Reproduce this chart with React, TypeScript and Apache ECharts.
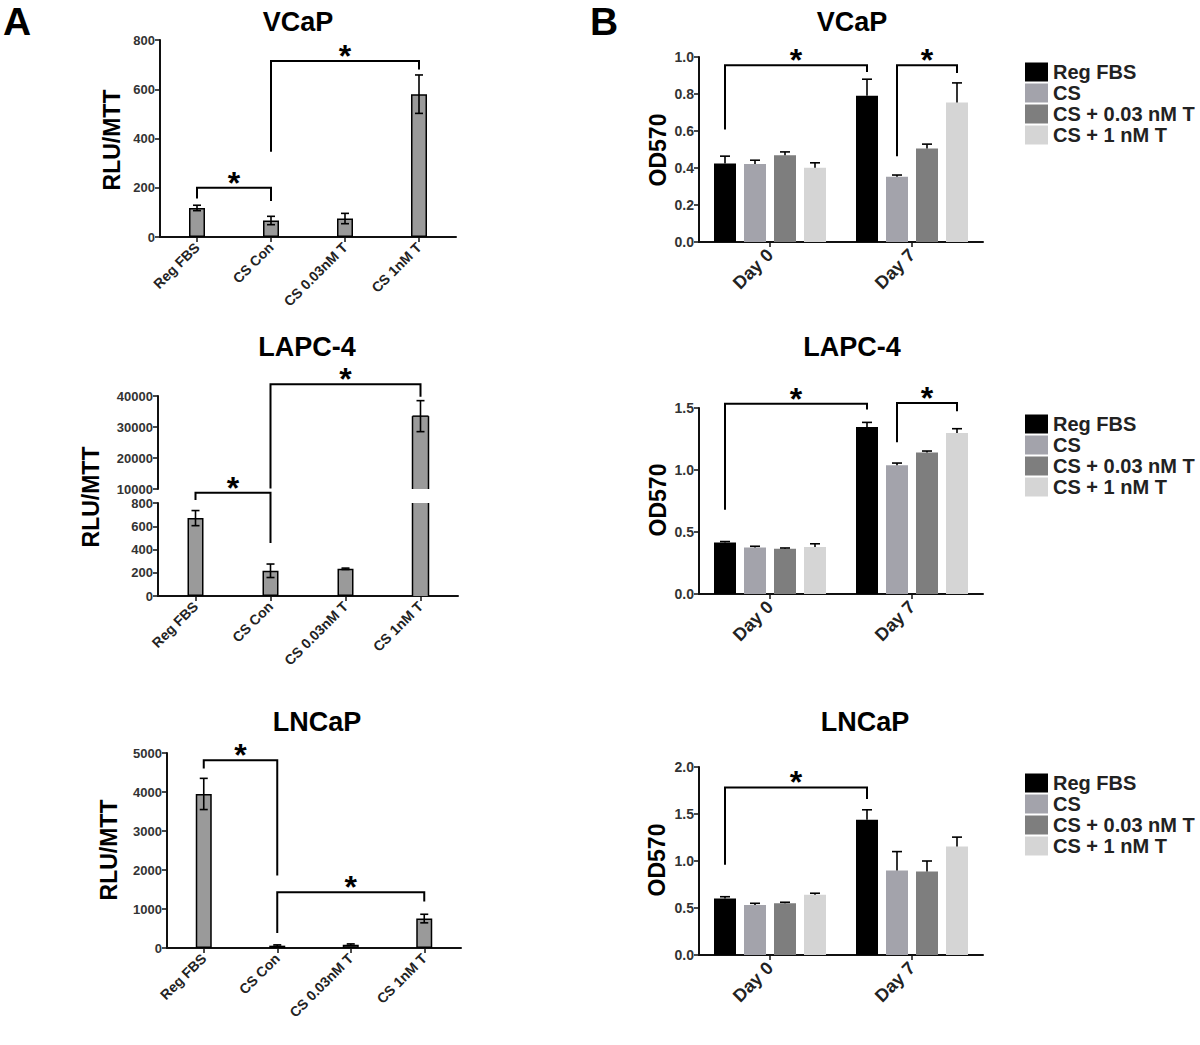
import React, { useEffect, useRef } from "react";
import * as echarts from "echarts";

// ---------------- DATA ----------------
const A_CATEGORIES = ["Reg FBS", "CS Con", "CS 0.03nM T", "CS 1nM T"];

const A_VCAP_VALUES = [118, 67, 75, 580];
const A_VCAP_ERR = [11, 17, 21, 78];
const A_VCAP_TICKS = [0, 800, 200];
// bracket: [fromCat, toCat, barY, leftLegEnd, rightLegEnd]
const A_VCAP_BRACKETS = [
  [0, 1, 200, 156, 146],
  [1, 3, 715, 346, 680],
];

const A_LAPC_VALUES = [670, 217, 234, 33500];
const A_LAPC_ERR = [65, 58, 6, 5000];
const A_LAPC_LOW_TICKS = [0, 800, 200];
const A_LAPC_HIGH_TICKS = [10000, 40000, 10000];
const A_LAPC_LOW_BRACKETS = [[0, 1, 889, 826, 456]];
const A_LAPC_HIGH_BRACKETS = [[1, 3, 43760, 10200, 39750]];

const A_LNCAP_VALUES = [3950, 60, 85, 755];
const A_LNCAP_ERR = [400, 20, 20, 110];
const A_LNCAP_TICKS = [0, 5000, 1000];
const A_LNCAP_BRACKETS = [
  [0, 1, 4813, 4600, 1857],
  [1, 3, 1431, 383, 1192],
];

const B_CATEGORIES = ["Day 0", "Day 7"];
const B_GROUPS = ["Reg FBS", "CS", "CS + 0.03 nM T", "CS + 1 nM T"];
const B_COLORS = ["#000000", "#a3a3ab", "#7e7e7e", "#d5d5d5"];

const B_VCAP_REG = [0.424, 0.79];
const B_VCAP_CS = [0.421, 0.353];
const B_VCAP_LOWT = [0.469, 0.505];
const B_VCAP_HIGHT = [0.401, 0.754];
const B_VCAP_ERR = [
  [0.04, 0.09],
  [0.021, 0.009],
  [0.018, 0.024],
  [0.027, 0.106],
];
const B_VCAP_TICKS = [0, 1, 0.2];
// bracket: [fromCat, fromBar, toCat, toBar, barY, leftLegEnd, rightLegEnd]
const B_VCAP_BRACKETS = [
  [0, 0, 1, 0, 0.955, 0.608, 0.919],
  [1, 1, 1, 3, 0.955, 0.464, 0.914],
];

const B_LAPC_REG = [0.415, 1.347];
const B_LAPC_CS = [0.375, 1.038];
const B_LAPC_LOWT = [0.365, 1.142];
const B_LAPC_HIGHT = [0.38, 1.298];
const B_LAPC_ERR = [
  [0.008, 0.037],
  [0.01, 0.018],
  [0.006, 0.011],
  [0.025, 0.035],
];
const B_LAPC_TICKS = [0, 1.5, 0.5];
const B_LAPC_BRACKETS = [
  [0, 0, 1, 0, 1.535, 0.68, 1.487],
  [1, 1, 1, 3, 1.54, 1.223, 1.473],
];

const B_LNCAP_REG = [0.6, 1.44];
const B_LNCAP_CS = [0.533, 0.9];
const B_LNCAP_LOWT = [0.55, 0.888];
const B_LNCAP_HIGHT = [0.64, 1.154];
const B_LNCAP_ERR = [
  [0.02, 0.105],
  [0.017, 0.2],
  [0.011, 0.112],
  [0.017, 0.1],
];
const B_LNCAP_TICKS = [0, 2, 0.5];
const B_LNCAP_BRACKETS = [[0, 0, 1, 0, 1.783, 0.959, 1.659]];

// ---------------- STYLE ----------------
const FONT = "'Liberation Sans', Arial, Helvetica, sans-serif";
const AXIS_COLOR = "#111111";
const TICK_LABEL_COLOR = "#333333";
const A_BAR_COLOR = "#9a9a9a";
const A_BAR_W = 16;
const B_BAR_W = 22;
const B_BAR_SPACE = 8;

type Rect = { left: number; top: number; width: number; height: number };

function buildOption() {
  const grid: any[] = [];
  const xAxis: any[] = [];
  const yAxis: any[] = [];
  const series: any[] = [];
  const legend: any[] = [];
  const graphic: any[] = [];

  const catAxis = (cats: string[], fontSize: number, margin: number, show = true) => ({
    type: "category",
    data: cats,
    show,
    axisLine: { show: true, lineStyle: { color: AXIS_COLOR, width: 2 } },
    axisTick: { show: true, alignWithLabel: true, length: 5, lineStyle: { color: AXIS_COLOR, width: 1.5 } },
    axisLabel: {
      rotate: 45,
      interval: 0,
      fontSize,
      fontWeight: "bold",
      color: "#222",
      fontFamily: FONT,
      margin,
    },
    splitLine: { show: false },
  });

  const valAxis = (ticks: number[], decimals: number, fontSize: number) => ({
    type: "value",
    min: ticks[0],
    max: ticks[1],
    interval: ticks[2],
    axisLine: { show: true, lineStyle: { color: AXIS_COLOR, width: 2 } },
    axisTick: { show: true, length: 5, lineStyle: { color: AXIS_COLOR, width: 1.5 } },
    axisLabel: {
      fontSize,
      fontWeight: "bold",
      color: TICK_LABEL_COLOR,
      fontFamily: FONT,
      margin: 5,
      formatter: (v: number) => v.toFixed(decimals),
    },
    splitLine: { show: false },
  });

  const addCoord = (rect: Rect, x: any, y: any) => {
    const i = grid.length;
    grid.push({ ...rect, containLabel: false });
    xAxis.push({ gridIndex: i, ...x });
    yAxis.push({ gridIndex: i, ...y });
    return i;
  };

  const errorBars = (
    ci: number,
    values: number[],
    errs: number[],
    opt: { cap: number; both: boolean; offset: number; keep?: (i: number) => boolean }
  ) => {
    const idx = values.map((_, i) => i).filter((i) => !opt.keep || opt.keep(i));
    return {
      type: "custom",
      xAxisIndex: ci,
      yAxisIndex: ci,
      z: 10,
      silent: true,
      clip: false,
      data: idx.map((i) => [i, values[i] + errs[i]]),
      encode: { x: 0, y: 1 },
      renderItem: (params: any, api: any) => {
        const i = idx[params.dataIndex];
        const v = values[i];
        const e = errs[i];
        const pTop = api.coord([i, v + e]);
        const pBot = api.coord([i, opt.both ? v - e : v]);
        const cx = pTop[0] + opt.offset;
        const st = { stroke: "#000", lineWidth: 1.6 };
        const children: any[] = [
          { type: "line", shape: { x1: cx, y1: pTop[1], x2: cx, y2: pBot[1] }, style: st },
          { type: "line", shape: { x1: cx - opt.cap, y1: pTop[1], x2: cx + opt.cap, y2: pTop[1] }, style: st },
        ];
        if (opt.both) {
          children.push({
            type: "line",
            shape: { x1: cx - opt.cap, y1: pBot[1], x2: cx + opt.cap, y2: pBot[1] },
            style: st,
          });
        }
        return { type: "group", children };
      },
    };
  };

  // outline of a bar that is cut by the axis break (no border at the cut)
  const brokenOutline = (ci: number, values: number[], i: number, lo: number, hi: number) => ({
    type: "custom",
    xAxisIndex: ci,
    yAxisIndex: ci,
    z: 9,
    silent: true,
    clip: false,
    data: [[i, Math.min(values[i], hi)]],
    encode: { x: 0, y: 1 },
    renderItem: (_params: any, api: any) => {
      const top = Math.min(values[i], hi);
      const pT = api.coord([i, top]);
      const pB = api.coord([i, lo]);
      const xL = pT[0] - A_BAR_W / 2;
      const xR = pT[0] + A_BAR_W / 2;
      const closedTop = values[i] <= hi;
      const st = { stroke: "#000", lineWidth: 1.5, fill: "none" };
      const children: any[] = [
        { type: "line", shape: { x1: xL, y1: pB[1], x2: xL, y2: pT[1] }, style: st },
        { type: "line", shape: { x1: xR, y1: pB[1], x2: xR, y2: pT[1] }, style: st },
      ];
      if (closedTop) {
        children.push({ type: "line", shape: { x1: xL, y1: pT[1], x2: xR, y2: pT[1] }, style: st });
      }
      return { type: "group", children };
    },
  });

  const brackets = (ci: number, list: number[][], offsetOf: (b: number) => number) => ({
    type: "custom",
    xAxisIndex: ci,
    yAxisIndex: ci,
    z: 12,
    silent: true,
    clip: false,
    data: list.map((b) => [b[0], b[4]]),
    encode: { x: 0, y: 1 },
    renderItem: (params: any, api: any) => {
      const [c1, b1, c2, b2, y, yl, yr] = list[params.dataIndex];
      const pL = api.coord([c1, y]);
      const pR = api.coord([c2, y]);
      const pLl = api.coord([c1, yl]);
      const pRr = api.coord([c2, yr]);
      const x1 = pL[0] + offsetOf(b1);
      const x2 = pR[0] + offsetOf(b2);
      return {
        type: "group",
        children: [
          {
            type: "polyline",
            shape: { points: [[x1, pLl[1]], [x1, pL[1]], [x2, pL[1]], [x2, pRr[1]]] },
            style: { stroke: "#000", lineWidth: 2, fill: "none" },
          },
          {
            type: "text",
            x: (x1 + x2) / 2,
            y: pL[1] - 5,
            style: {
              text: "*",
              fontSize: 32,
              fontWeight: "bold",
              fill: "#000",
              align: "center",
              verticalAlign: "middle",
              fontFamily: FONT,
            },
          },
        ],
      };
    },
  });

  const aBrackets = (list: number[][]) => list.map((b) => [b[0], 0, b[1], 0, b[2], b[3], b[4]]);

  const aBarSeries = (ci: number, name: string, data: any[]) => ({
    type: "bar",
    name,
    xAxisIndex: ci,
    yAxisIndex: ci,
    data,
    barWidth: A_BAR_W,
    clip: true,
    itemStyle: { color: A_BAR_COLOR, borderColor: "#000", borderWidth: 1.5 },
    z: 2,
  });

  const A_TICK_FS = 13;
  const A_CAT_FS = 14;

  // ---------- Panel A : VCaP ----------
  {
    const ci = addCoord(
      { left: 160, top: 40, width: 296, height: 197 },
      catAxis(A_CATEGORIES, A_CAT_FS, 8),
      valAxis(A_VCAP_TICKS, 0, A_TICK_FS)
    );
    series.push(aBarSeries(ci, "A VCaP", A_VCAP_VALUES));
    series.push(errorBars(ci, A_VCAP_VALUES, A_VCAP_ERR, { cap: 4, both: true, offset: 0 }));
    series.push(brackets(ci, aBrackets(A_VCAP_BRACKETS), () => 0));
  }

  // ---------- Panel A : LAPC-4 (broken axis) ----------
  {
    const hi = addCoord(
      { left: 158, top: 396, width: 300, height: 93 },
      catAxis(A_CATEGORIES, A_CAT_FS, 8, false),
      valAxis(A_LAPC_HIGH_TICKS, 0, A_TICK_FS)
    );
    const lo = addCoord(
      { left: 158, top: 503, width: 300, height: 93 },
      catAxis(A_CATEGORIES, A_CAT_FS, 8),
      valAxis(A_LAPC_LOW_TICKS, 0, A_TICK_FS)
    );
    const hiMin = A_LAPC_HIGH_TICKS[0];
    const loMax = A_LAPC_LOW_TICKS[1];
    const cutItem = (v: number) => ({ value: v, itemStyle: { borderWidth: 0 } });
    series.push(
      aBarSeries(
        hi,
        "A LAPC-4 high",
        A_LAPC_VALUES.map((v) => (v > hiMin ? cutItem(v) : "-"))
      )
    );
    series.push(aBarSeries(lo, "A LAPC-4", A_LAPC_VALUES.map((v) => (v > loMax ? cutItem(v) : v))));
    A_LAPC_VALUES.forEach((v, i) => {
      if (v > loMax) {
        series.push(brokenOutline(lo, A_LAPC_VALUES, i, 0, loMax));
        series.push(brokenOutline(hi, A_LAPC_VALUES, i, hiMin, A_LAPC_HIGH_TICKS[1]));
      }
    });
    series.push(
      errorBars(hi, A_LAPC_VALUES, A_LAPC_ERR, {
        cap: 4,
        both: true,
        offset: 0,
        keep: (i) => A_LAPC_VALUES[i] > hiMin,
      })
    );
    series.push(
      errorBars(lo, A_LAPC_VALUES, A_LAPC_ERR, {
        cap: 4,
        both: true,
        offset: 0,
        keep: (i) => A_LAPC_VALUES[i] <= loMax,
      })
    );
    series.push(brackets(lo, aBrackets(A_LAPC_LOW_BRACKETS), () => 0));
    series.push(brackets(hi, aBrackets(A_LAPC_HIGH_BRACKETS), () => 0));
  }

  // ---------- Panel A : LNCaP ----------
  {
    const ci = addCoord(
      { left: 167, top: 753, width: 294, height: 195 },
      catAxis(A_CATEGORIES, A_CAT_FS, 8),
      valAxis(A_LNCAP_TICKS, 0, A_TICK_FS)
    );
    series.push(aBarSeries(ci, "A LNCaP", A_LNCAP_VALUES));
    series.push(errorBars(ci, A_LNCAP_VALUES, A_LNCAP_ERR, { cap: 4, both: true, offset: 0 }));
    series.push(brackets(ci, aBrackets(A_LNCAP_BRACKETS), () => 0));
  }

  // ---------- Panel B ----------
  const bOffset = (b: number) => (b - 1.5) * (B_BAR_W + B_BAR_SPACE);
  const addB = (
    rect: Rect,
    groups: number[][],
    errs: number[][],
    ticks: number[],
    br: number[][],
    legendTop: number
  ) => {
    const ci = addCoord(rect, catAxis(B_CATEGORIES, 18, 10), valAxis(ticks, 1, 14));
    groups.forEach((vals, g) => {
      series.push({
        type: "bar",
        name: B_GROUPS[g],
        xAxisIndex: ci,
        yAxisIndex: ci,
        data: vals,
        barWidth: B_BAR_W,
        barGap: `${(B_BAR_SPACE / B_BAR_W) * 100}%`,
        itemStyle: { color: B_COLORS[g] },
        z: 2,
      });
    });
    groups.forEach((vals, g) => {
      series.push(errorBars(ci, vals, errs[g], { cap: 5, both: false, offset: bOffset(g) }));
    });
    series.push(brackets(ci, br, bOffset));
    legend.push({
      data: B_GROUPS,
      orient: "vertical",
      left: 1025,
      top: legendTop,
      itemWidth: 23,
      itemHeight: 19,
      itemGap: 1,
      padding: 0,
      icon: "rect",
      selectedMode: false,
      textStyle: { fontSize: 20, fontWeight: "bold", color: "#222", fontFamily: FONT, lineHeight: 19 },
    });
  };

  addB(
    { left: 699, top: 57, width: 284, height: 185 },
    [B_VCAP_REG, B_VCAP_CS, B_VCAP_LOWT, B_VCAP_HIGHT],
    B_VCAP_ERR,
    B_VCAP_TICKS,
    B_VCAP_BRACKETS,
    62
  );
  addB(
    { left: 699, top: 408, width: 284, height: 186 },
    [B_LAPC_REG, B_LAPC_CS, B_LAPC_LOWT, B_LAPC_HIGHT],
    B_LAPC_ERR,
    B_LAPC_TICKS,
    B_LAPC_BRACKETS,
    414
  );
  addB(
    { left: 699, top: 767, width: 284, height: 188 },
    [B_LNCAP_REG, B_LNCAP_CS, B_LNCAP_LOWT, B_LNCAP_HIGHT],
    B_LNCAP_ERR,
    B_LNCAP_TICKS,
    B_LNCAP_BRACKETS,
    773
  );

  // ---------- texts ----------
  const text = (t: string, x: number, y: number, size: number, rotate = false) => ({
    type: "text",
    x,
    y,
    rotation: rotate ? Math.PI / 2 : 0,
    style: {
      text: t,
      fontSize: size,
      fontWeight: "bold",
      fill: "#000",
      align: "center",
      verticalAlign: "middle",
      fontFamily: FONT,
    },
  });
  graphic.push(text("A", 17, 21, 39));
  graphic.push(text("B", 604, 21, 39));
  graphic.push(text("VCaP", 298, 22, 27));
  graphic.push(text("LAPC-4", 307, 347, 27));
  graphic.push(text("LNCaP", 317, 722, 27));
  graphic.push(text("VCaP", 852, 22, 27));
  graphic.push(text("LAPC-4", 852, 347, 27));
  graphic.push(text("LNCaP", 865, 722, 27));
  graphic.push(text("RLU/MTT", 112, 140, 23, true));
  graphic.push(text("RLU/MTT", 91, 497, 23, true));
  graphic.push(text("RLU/MTT", 109, 850, 23, true));
  graphic.push(text("OD570", 658, 150, 23, true));
  graphic.push(text("OD570", 658, 500, 23, true));
  graphic.push(text("OD570", 657, 860, 23, true));

  return {
    animation: false,
    backgroundColor: "#ffffff",
    textStyle: { fontFamily: FONT },
    grid,
    xAxis,
    yAxis,
    series,
    legend,
    graphic,
  };
}

export default function App() {
  const ref = useRef<HTMLDivElement>(null);
  useEffect(() => {
    if (!ref.current) return;
    const chart = echarts.init(ref.current, undefined, { renderer: "svg" });
    chart.setOption(buildOption() as any);
    return () => chart.dispose();
  }, []);
  return (
    <div
      ref={ref}
      style={{ position: "absolute", left: 0, top: 0, width: 1200, height: 1045, background: "#fff" }}
    />
  );
}
